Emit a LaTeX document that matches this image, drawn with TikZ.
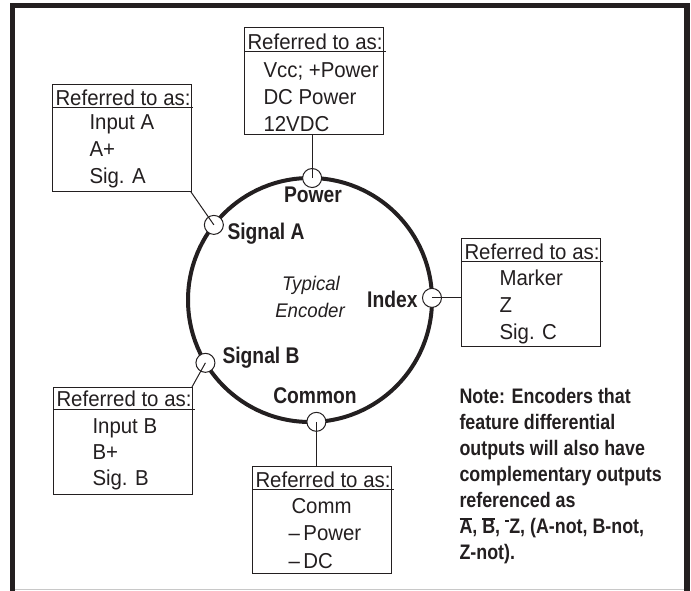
\documentclass[tikz,border=0pt]{standalone}
\usepackage{fontspec}
\setmainfont{Liberation Sans}[FakeStretch=0.945]
\newfontfamily\labelfont{Liberation Sans}[FakeStretch=0.85]
\definecolor{ink}{RGB}{35,31,32}
\newcommand{\notbar}[1]{\setbox0\hbox{#1}\rlap{\rule[0.66em]{\wd0}{0.07em}}#1}
\newcommand{\notdash}{\raisebox{0.58em}{\rule{0.2em}{0.07em}}}

\tikzset{every picture/.style={line width=0.75pt}}
\tikzset{
  refbox/.style={draw=ink, fill=white, anchor=north west, inner sep=0pt, outer sep=0pt, minimum width=104.25pt, minimum height=80.25pt},
  reftext/.style={anchor=base west, inner sep=0pt, text=ink, font=\fontsize{16.2}{19}\selectfont},
  pinlabel/.style={inner sep=0pt, text=ink, font=\labelfont\bfseries\fontsize{17}{20}\selectfont},
  port/.style={circle, draw=ink, fill=white, line width=0.75pt, minimum size=14.25pt, inner sep=0pt, outer sep=0pt},
  lead/.style={draw=ink, line width=0.75pt}
}

\begin{document}
\begin{tikzpicture}[x=0.75pt,y=0.75pt,yscale=-1,xscale=1]
\useasboundingbox (0,0) rectangle (691,591);

% frame
\fill [ink] (10,3) rectangle (690,8);
\fill [ink] (10,3) rectangle (15,591);
\fill [ink] (684,3) rectangle (690,591);
\draw [color={rgb, 255:red, 200; green, 200; blue, 200 }] (15,589.5) -- (684,589.5);

% encoder
\node [circle, draw=ink, line width=3pt, minimum size=183pt, inner sep=0pt, outer sep=0pt] (enc) at (310,300) {};
\node [anchor=base, inner sep=0pt, text=ink, font=\itshape\fontsize{14.8}{17}\selectfont] (typ) at (311,290) {Typical};
\node [anchor=base, inner sep=0pt, text=ink, font=\itshape\fontsize{14.8}{17}\selectfont] (encname) at (310,317) {Encoder};

\node [port] (pwr) at (enc.89) {};
\node [port] (siga) at (enc.142.7) {};
\node [port] (idx) at (enc.1) {};
\node [port] (sigb) at (enc.211.5) {};
\node [port] (com) at (enc.273) {};

\node [pinlabel, anchor=base] (pwrlab) at (313,203) {Power};
\node [pinlabel, anchor=base west] (sigalab) at (227,240) {Signal A};
\node [pinlabel, anchor=base east] (idxlab) at (418,307) {Index};
\node [pinlabel, anchor=base west] (sigblab) at (222,363) {Signal B};
\node [pinlabel, anchor=base] (comlab) at (315,403) {Common};

% power box
\node [refbox] (pwrbox) at (244,28) {};
\node [reftext] (pwrhead) at (247,50) {Referred to as:};
\draw [ink] (244,52) -- (386,52);
\node [reftext] (pwr1) at (263,78) {Vcc; +Power};
\node [reftext] (pwr2) at (263,105) {DC Power};
\node [reftext] (pwr3) at (263,132) {12VDC};

% signal a box
\node [refbox] (sigabox) at (52,85) {};
\node [reftext] (sigahead) at (55,106) {Referred to as:};
\draw [ink] (52,108) -- (193,108);
\node [reftext] (siga1) at (89,130) {Input A};
\node [reftext] (siga2) at (89,157) {A+};
\node [reftext] (siga3) at (89,184) {Sig. A};

% index box
\node [refbox] (idxbox) at (461,239) {};
\node [reftext] (idxhead) at (464,260) {Referred to as:};
\draw [ink] (461,262) -- (603,262);
\node [reftext] (idx1) at (499,285) {Marker};
\node [reftext] (idx2) at (499,312) {Z};
\node [reftext] (idx3) at (499,339) {Sig. C};

% signal b box
\node [refbox] (sigbbox) at (53,387) {};
\node [reftext] (sigbhead) at (56,406) {Referred to as:};
\draw [ink] (53,409) -- (195,409);
\node [reftext] (sigb1) at (92,433) {Input B};
\node [reftext] (sigb2) at (92,459) {B+};
\node [reftext] (sigb3) at (92,485) {Sig. B};

% common box
\node [refbox] (combox) at (252,466) {};
\node [reftext] (comhead) at (255,487) {Referred to as:};
\draw [ink] (252,489) -- (394,489);
\node [reftext] (com1) at (291,513) {Comm};
\node [reftext] (com2) at (288,540) {–\,Power};
\node [reftext] (com3) at (288,568) {–\,DC};

% leads
\draw [lead] (pwr.center) -- (pwr.center |- pwrbox.south);
\draw [lead] (siga.center) -- (sigabox.south east);
\draw [lead] (idx.center) -- (idx.center -| idxbox.west);
\draw [lead] (sigb.center) -- (sigbbox.north east);
\draw [lead] (com.center) -- (com.center |- combox.north);

% note
\node [anchor=north west, inner sep=0pt, align=left, text=ink, font=\labelfont\bfseries\fontsize{15.75}{19.5}\selectfont] (note) at (459,388) {Note: Encoders that\\feature differential\\outputs will also have\\complementary outputs\\referenced as\\\notbar{A}, \notbar{B}, \notdash Z, (A-not, B-not,\\Z-not).};

\end{tikzpicture}
\end{document}
